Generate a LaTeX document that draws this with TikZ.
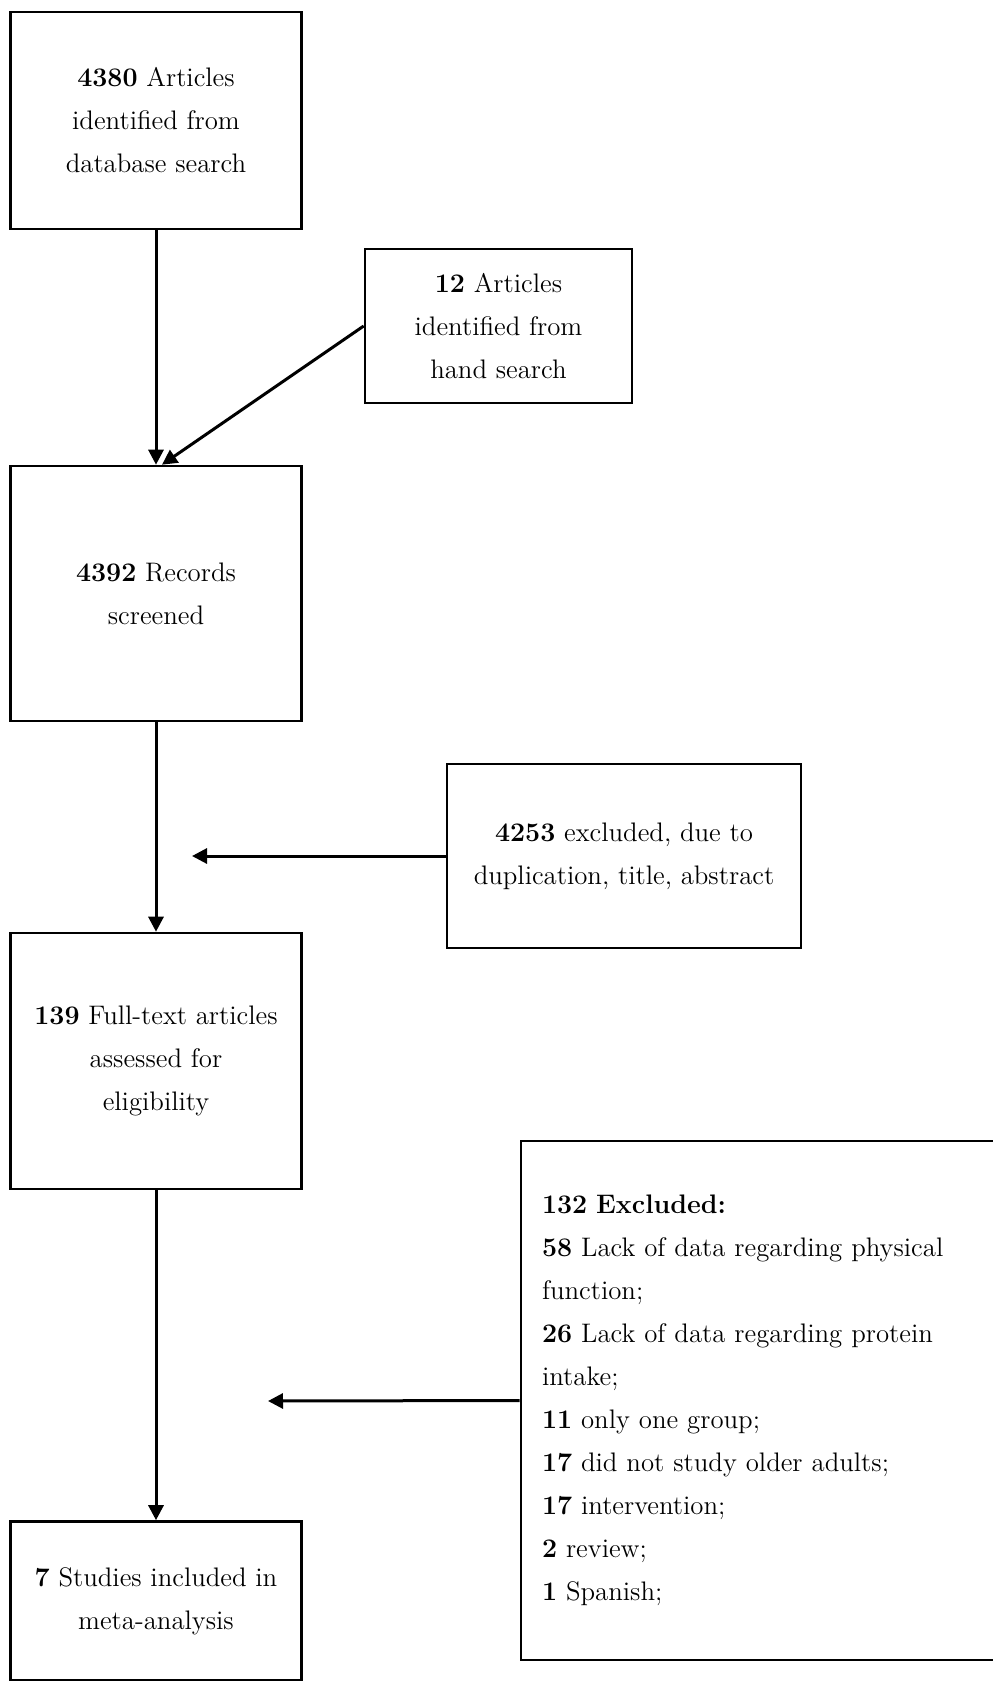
\documentclass[tikz,border=0pt]{standalone}
\usetikzlibrary{arrows.meta}
\begin{document}
\begin{tikzpicture}[x=0.5pt,y=-0.5pt,
  box/.style={draw, line width=1.3pt, inner sep=0pt, align=center,
    font=\fontsize{13.4pt}{21.5pt}\selectfont},
  flow/.style={line width=1.5pt, -{Triangle[length=7.5pt,width=7.5pt]}}]
\useasboundingbox (0,0) rectangle (992,1681);
\node[box, minimum width=145.5pt, minimum height=108.5pt] (db) at (156,120.5) {\textbf{4380} Articles\\identified from\\database search};
\node[box, minimum width=133.5pt, minimum height=77pt] (hand) at (498.5,326) {\textbf{12} Articles\\identified from\\hand search};
\node[box, minimum width=145.5pt, minimum height=127.5pt] (screen) at (156,593.5) {\textbf{4392} Records\\screened};
\node[box, minimum width=177pt, minimum height=92pt] (excl) at (624,856) {\textbf{4253} excluded, due to\\duplication, title, abstract};
\node[box, minimum width=145.5pt, minimum height=128pt] (full) at (156,1061) {\textbf{139} Full-text articles\\assessed for\\eligibility};
\node[box, minimum width=145.5pt, minimum height=79.5pt] (incl) at (156,1601) {\textbf{7} Studies included in\\meta-analysis};
\node[box, align=left, text width=218.5pt, inner xsep=10.5pt, minimum height=259.5pt] (reasons) at (760.5,1400.5) {\textbf{132 Excluded:}\\\textbf{58} Lack of data regarding physical\\function;\\\textbf{26} Lack of data regarding protein\\intake;\\\textbf{11} only one group;\\\textbf{17} did not study older adults;\\\textbf{17} intervention;\\\textbf{2} review;\\\textbf{1} Spanish;};
\coordinate (exclTip) at (192,856);
\coordinate (reasonsTip) at (268,1401);
\draw[flow] (db.south) -- (screen.north);
\draw[flow] (hand.west) -- ([xshift=3pt]screen.north);
\draw[flow] (screen.south) -- (full.north);
\draw[flow] (excl.west) -- (exclTip);
\draw[flow] (full.south) -- (incl.north);
\draw[flow] (reasons.west) -- (reasonsTip);
\end{tikzpicture}
\end{document}
